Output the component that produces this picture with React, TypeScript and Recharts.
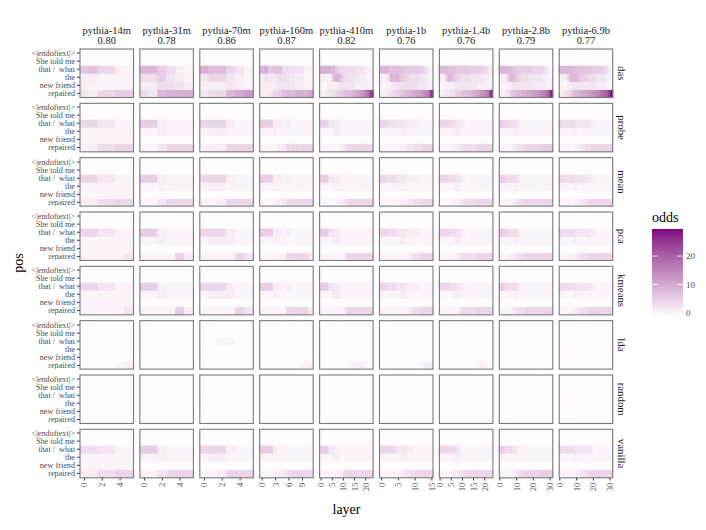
import React from 'react';
import { BarChart, Bar, XAxis, YAxis, Cell } from 'recharts';

// ---------- categories / labels ----------
const MODELS = ['pythia-14m', 'pythia-31m', 'pythia-70m', 'pythia-160m', 'pythia-410m', 'pythia-1b', 'pythia-1.4b', 'pythia-2.8b', 'pythia-6.9b'];
const SCORES = ['0.80', '0.78', '0.86', '0.87', '0.82', '0.76', '0.76', '0.79', '0.77'];
const LAYER_COUNTS = [6, 6, 6, 12, 24, 16, 24, 32, 32];
const TICK_STEPS = [2, 2, 2, 3, 5, 5, 5, 10, 10];
const METHODS = ['das', 'probe', 'mean', 'pca', 'kmeans', 'lda', 'random', 'vanilla'];
const POSITIONS = ['<|endoftext|>', 'She told me', 'that /  what', 'the', 'new friend', 'repaired'];
const ODDS_TICKS = [0, 10, 20];
const ODDS_LIMITS = [-1.4, 29.5];
// odds per cell = base-36 digit − 1  ('0' → −1, '1' → 0, 'a' → 9, 't' → 28)
const ODDS_OFFSET = -1;

// ---------- values: one base-36 character per layer ----------
// each panel: [<|endoftext|>, She told me, that / what, the, new friend, repaired]
const Z6 = '000000';
const Z12 = '000000000000';
const Z16 = '0000000000000000';
const Z24 = '000000000000000000000000';
const Z32 = '00000000000000000000000000000000';

const das: string[][] = [
  [Z6, Z6, '785521', '221111', '211111', '325566'],
  [Z6, Z6, '996421', '446321', '224432', '439aaa'],
  [Z6, Z6, 'a88531', '355321', '222321', '3459bd'],
  [Z12, Z12, '9a6884443321', '233344332211', '222233332211', '22356899aaac'],
  [Z24, Z24, 'aaaaa9975554444433332211', '2222249aa854443333222111', '111222223333333322222211', '222334456678899abcdegims'],
  [Z16, Z16, '9997888777666531', '22399a7654443321', '1122334444433321', '223456789abcdfhr'],
  [Z24, Z24, '999988877777776666655432', '222699865544443333332221', '111122233333333332222211', '222334456678899abcdefhjs'],
  [Z32, Z32, '99999988876666666666555555443211', '22223589987655444433333333222211', '11112222333333333333332222222111', '22223346788999aaabbccddeefghiknt'],
  [Z32, Z32, '99999999888887777777666666554321', '22222479999877665554444333332211', '11111222333333333333332222222111', '223344567899aabbccddeefghijklnqu'],
];

const probe: string[][] = [
  [Z6, Z6, '553311', '111111', '111111', '224455'],
  [Z6, Z6, '662111', '112111', Z6, '113555'],
  [Z6, Z6, '555211', '122111', Z6, '122555'],
  [Z12, Z12, '666221211111', '111211111111', Z12, '111123555555'],
  [Z24, Z24, '666633322211111111111111', '111111222211111111111111', Z24, '111111111223455555555555'],
  [Z16, Z16, '5544433322221111', '1111112211111111', Z16, '1111112233444555'],
  [Z24, Z24, '555554443322111111111111', '111111122211111111111111', Z24, '111111222334444445555555'],
  [Z32, Z32, '66655444444321111111111111111111', '11111111122211111111111111111111', Z32, '11111111223344455555555556666666'],
  [Z32, Z32, '55444444443333333332221111111111', '11111111122111111111111111111111', Z32, '11111111112223334445555555555555'],
];

const mean: string[][] = [
  [Z6, Z6, '553311', '111111', '111111', '224455'],
  [Z6, Z6, '662111', '112111', Z6, '113555'],
  [Z6, Z6, '555211', '122111', Z6, '112555'],
  [Z12, Z12, '666221211111', '111211111111', Z12, '111123455555'],
  [Z24, Z24, '666633322211111111111111', '111111222211111111111111', Z24, '111111112223455555555555'],
  [Z16, Z16, '5544433322221111', '1111112211111111', Z16, '1111112233444555'],
  [Z24, Z24, '555554443322111111111111', '111111122211111111111111', Z24, '111111222334444445555555'],
  [Z32, Z32, '66655444444321111111111111111111', '11111111122211111111111111111111', Z32, '11111111223344455555555555555555'],
  [Z32, Z32, '55444444443333333332221111111111', '11111111122111111111111111111111', Z32, '11111111112223334445555555555555'],
];

const pca: string[][] = [
  [Z6, Z6, '553311', '111111', '111111', '111113'],
  [Z6, Z6, '662111', '112111', Z6, '111152'],
  [Z6, Z6, '555211', '122211', Z6, '111153'],
  [Z12, Z12, '666221211111', '111211111111', Z12, '111111555552'],
  [Z24, Z24, '666633322211111111111111', '111111222211111111111111', Z24, '111111111112555555555555'],
  [Z16, Z16, '5544433322221111', '1111112211111111', Z16, '1111111113445555'],
  [Z24, Z24, '555554443322111111111111', '111111122211111111111111', Z24, '111111111344444445555555'],
  [Z32, Z32, '66655444444321111111111111111111', '11111111122211111111111111111111', Z32, '11111112233344445555555555555555'],
  [Z32, Z32, '55444444443333333332221111111111', '11111111122111111111111111111111', Z32, '11111111122333444455555555555555'],
];

const kmeans: string[][] = [
  [Z6, Z6, '553311', '111111', '111111', '111113'],
  [Z6, Z6, '662111', '112111', Z6, '111162'],
  [Z6, Z6, '555211', '122211', Z6, '111153'],
  [Z12, Z12, '666221211111', '111211111111', Z12, '111111555552'],
  [Z24, Z24, '666633322211111111111111', '111111222211111111111111', Z24, '111111111112555555555555'],
  [Z16, Z16, '5544433322221111', '1111112211111111', Z16, '1111111113445555'],
  [Z24, Z24, '555554443322111111111111', '111111122211111111111111', Z24, '111111111344444445555555'],
  [Z32, Z32, '66655444444321111111111111111111', '11111111122211111111111111111111', Z32, '11111112233344445555555555555555'],
  [Z32, Z32, '55444444443333333332221111111111', '11111111122111111111111111111111', Z32, '11111111122333444455555555555555'],
];

const lda: string[][] = [
  [Z6, Z6, Z6, Z6, Z6, '000012'],
  [Z6, Z6, Z6, Z6, Z6, Z6],
  [Z6, Z6, '001100', Z6, Z6, Z6],
  [Z12, Z12, Z12, Z12, Z12, '000000000112'],
  [Z24, Z24, Z24, Z24, Z24, '000000000000001222221100'],
  [Z16, Z16, Z16, Z16, Z16, '0000000000001222'],
  [Z24, Z24, Z24, Z24, Z24, '000000000000000000122100'],
  [Z32, Z32, Z32, Z32, Z32, Z32],
  [Z32, Z32, Z32, Z32, Z32, Z32],
];

const random: string[][] = [
  [Z6, Z6, Z6, Z6, Z6, Z6],
  [Z6, Z6, Z6, Z6, Z6, Z6],
  [Z6, Z6, Z6, Z6, Z6, Z6],
  [Z12, Z12, Z12, Z12, Z12, Z12],
  [Z24, Z24, Z24, Z24, Z24, Z24],
  [Z16, Z16, Z16, Z16, Z16, Z16],
  [Z24, Z24, Z24, Z24, Z24, Z24],
  [Z32, Z32, Z32, Z32, Z32, Z32],
  [Z32, Z32, Z32, Z32, Z32, Z32],
];

const vanilla: string[][] = [
  [Z6, Z6, '443311', '111111', '111111', '224455'],
  [Z6, Z6, '662111', '112111', Z6, '113555'],
  [Z6, Z6, '555211', '122111', Z6, '112555'],
  [Z12, Z12, '666211111111', '111211111111', Z12, '111123455555'],
  [Z24, Z24, '666633321111111111111111', '111111222111111111111111', Z24, '111111112234555555555555'],
  [Z16, Z16, '5555433322111111', '1111112211111111', Z16, '1111112334455555'],
  [Z24, Z24, '555554443211111111111111', '111111122211111111111111', Z24, '111111222334455555555555'],
  [Z32, Z32, '66655444433211111111111111111111', '11111111122211111111111111111111', Z32, '11111111223344455555555566666666'],
  [Z32, Z32, '55444444443333333333211111111111', '11111111122111111111111111111111', Z32, '11111111112223334445555555555555'],
];

const METHOD_DATA = [das, probe, mean, pca, kmeans, lda, random, vanilla];

// ---------- layout / style ----------
const FONT = '"Liberation Serif", "Times New Roman", Times, serif';
const PANEL_X0 = 80;
const PANEL_DX = 59.9;
const PANEL_W = 53.5;
const PANEL_Y0 = 49;
const PANEL_DY = 54.33;
const PANEL_H = 48.5;
const Y_AXIS_W = 80;
const X_AXIS_H = 32;
const SIDE_PAD = 6;
const LOW = [255, 255, 255];
const HIGH = [128, 0, 128];

// ---------- Lab colour interpolation (as ggplot's gradient) ----------
const toLin = (c: number) => { const v = c / 255; return v <= 0.04045 ? v / 12.92 : Math.pow((v + 0.055) / 1.055, 2.4); };
const fromLin = (c: number) => { const v = c <= 0.0031308 ? 12.92 * c : 1.055 * Math.pow(c, 1 / 2.4) - 0.055; return Math.round(Math.max(0, Math.min(1, v)) * 255); };
const XN = 0.95047, ZN = 1.08883;
function rgbToLab(rgb: number[]) {
  const [R, G, B] = rgb.map(toLin);
  const X = 0.4124 * R + 0.3576 * G + 0.1805 * B;
  const Y = 0.2126 * R + 0.7152 * G + 0.0722 * B;
  const Zc = 0.0193 * R + 0.1192 * G + 0.9505 * B;
  const f = (t: number) => (t > 0.008856 ? Math.cbrt(t) : 7.787 * t + 16 / 116);
  return [116 * f(Y) - 16, 500 * (f(X / XN) - f(Y)), 200 * (f(Y) - f(Zc / ZN))];
}
function labToHex(L: number, a: number, b: number) {
  const fy = (L + 16) / 116, fx = fy + a / 500, fz = fy - b / 200;
  const inv = (t: number) => (t * t * t > 0.008856 ? t * t * t : (t - 16 / 116) / 7.787);
  const X = XN * inv(fx), Y = inv(fy), Zc = ZN * inv(fz);
  const r = fromLin(3.2406 * X - 1.5372 * Y - 0.4986 * Zc);
  const g = fromLin(-0.9689 * X + 1.8758 * Y + 0.0415 * Zc);
  const bb = fromLin(0.0557 * X - 0.204 * Y + 1.057 * Zc);
  return '#' + [r, g, bb].map((v) => v.toString(16).padStart(2, '0')).join('');
}
const LAB_LOW = rgbToLab(LOW);
const LAB_HIGH = rgbToLab(HIGH);
function oddsColor(v: number) {
  const t = Math.max(0, Math.min(1, (v - ODDS_LIMITS[0]) / (ODDS_LIMITS[1] - ODDS_LIMITS[0])));
  return labToHex(
    LAB_LOW[0] + (LAB_HIGH[0] - LAB_LOW[0]) * t,
    LAB_LOW[1] + (LAB_HIGH[1] - LAB_LOW[1]) * t,
    LAB_LOW[2] + (LAB_HIGH[2] - LAB_LOW[2]) * t,
  );
}

// ---------- ticks ----------
const XTick = (p: any) => (
  <text
    x={p.x}
    y={p.y}
    transform={`rotate(-90 ${p.x} ${p.y})`}
    textAnchor="end"
    dominantBaseline="central"
    fontSize={8.8}
    fontFamily={FONT}
    fill="#4d4d4d"
  >
    {p.payload.value}
  </text>
);
const YTick = (p: any) => (
  <text
    x={p.x}
    y={p.y}
    textAnchor="end"
    dominantBaseline="central"
    fontSize={8.2}
    fontFamily={FONT}
    fill="#4d4d4d"
    style={{ whiteSpace: 'pre' }}
  >
    {POSITIONS[5 - Math.floor(p.payload.value)]}
  </text>
);

function Panel({ mi, di }: { mi: number; di: number }) {
  const n = LAYER_COUNTS[mi];
  const values = METHOD_DATA[di][mi];
  const isLeft = mi === 0;
  const isBottom = di === METHODS.length - 1;
  const rows: any[] = [];
  for (let l = 0; l < n; l++) {
    const r: any = { layer: l };
    for (let k = 0; k < 6; k++) {
      const ch = values[k][l];
      r['h' + k] = 1;
      r['v' + k] = (ch ? parseInt(ch, 36) : 0) + ODDS_OFFSET;
    }
    rows.push(r);
  }
  const yW = isLeft ? Y_AXIS_W : 0;
  const xH = isBottom ? X_AXIS_H : 0;
  return (
    <div style={{ position: 'absolute', left: PANEL_X0 + mi * PANEL_DX - yW - SIDE_PAD, top: PANEL_Y0 + di * PANEL_DY }}>
      <BarChart
        width={PANEL_W + yW + 2 * SIDE_PAD}
        height={PANEL_H + xH}
        data={rows}
        margin={{ top: 0, right: SIDE_PAD, bottom: 0, left: SIDE_PAD }}
        barCategoryGap={0}
        barGap={0}
      >
        <XAxis
          dataKey="layer"
          hide={!isBottom}
          height={X_AXIS_H}
          interval={TICK_STEPS[mi] - 1}
          tickSize={3}
          tickMargin={2}
          axisLine={false}
          tickLine={{ stroke: '#333333' }}
          tick={(p: any) => <XTick {...p} />}
        />
        <YAxis
          type="number"
          domain={[0, 6]}
          hide={!isLeft}
          width={Y_AXIS_W}
          ticks={[0.5, 1.5, 2.5, 3.5, 4.5, 5.5]}
          interval={0}
          tickSize={3}
          tickMargin={2}
          axisLine={false}
          tickLine={{ stroke: '#333333' }}
          tick={(p: any) => <YTick {...p} />}
        />
        {[5, 4, 3, 2, 1, 0].map((k) => (
          <Bar key={k} dataKey={'h' + k} stackId="s" isAnimationActive={false}>
            {rows.map((r, i) => (
              <Cell key={i} fill={oddsColor(r['v' + k])} stroke={oddsColor(r['v' + k])} strokeWidth={0.9} />
            ))}
          </Bar>
        ))}
      </BarChart>
    </div>
  );
}

function Overlay() {
  const barX = 652, barW = 31, barTop = 229, barBot = 317;
  const yOf = (v: number) => barBot - ((v - ODDS_LIMITS[0]) / (ODDS_LIMITS[1] - ODDS_LIMITS[0])) * (barBot - barTop);
  const stops = [];
  for (let i = 0; i <= 20; i++) {
    const t = i / 20;
    stops.push(<stop key={i} offset={t} stopColor={oddsColor(ODDS_LIMITS[1] - t * (ODDS_LIMITS[1] - ODDS_LIMITS[0]))} />);
  }
  return (
    <svg width={706} height={530} style={{ position: 'absolute', left: 0, top: 0, pointerEvents: 'none' }} fontFamily={FONT}>
      <defs>
        <linearGradient id="oddsGrad" x1="0" y1="0" x2="0" y2="1">{stops}</linearGradient>
      </defs>
      {METHODS.map((m, di) =>
        MODELS.map((_, mi) => (
          <rect
            key={m + mi}
            x={PANEL_X0 + mi * PANEL_DX}
            y={PANEL_Y0 + di * PANEL_DY}
            width={PANEL_W}
            height={PANEL_H}
            fill="none"
            stroke="#7a7a7a"
            strokeWidth={1.1}
          />
        )),
      )}
      {MODELS.map((name, mi) => {
        const cx = PANEL_X0 + mi * PANEL_DX + PANEL_W / 2;
        return (
          <g key={name} fontSize={10.5} fill="#1a1a1a" textAnchor="middle">
            <text x={cx} y={30.2} dominantBaseline="central">{name}</text>
            <text x={cx} y={40.6} dominantBaseline="central">{SCORES[mi]}</text>
          </g>
        );
      })}
      {METHODS.map((m, di) => {
        const cy = PANEL_Y0 + di * PANEL_DY + PANEL_H / 2;
        const x = 621.5;
        return (
          <text key={m} x={x} y={cy} fontSize={10.8} fill="#1a1a1a" textAnchor="middle" dominantBaseline="central" transform={`rotate(90 ${x} ${cy})`}>
            {m}
          </text>
        );
      })}
      <text x={346.5} y={509} fontSize={14} fill="#000" textAnchor="middle" dominantBaseline="central">layer</text>
      <text x={18} y={263} fontSize={14} fill="#000" textAnchor="middle" dominantBaseline="central" transform="rotate(-90 18 263)">pos</text>
      <text x={652} y={217} fontSize={14} fill="#000" dominantBaseline="central">odds</text>
      <rect x={barX} y={barTop} width={barW} height={barBot - barTop} fill="url(#oddsGrad)" />
      {ODDS_TICKS.map((v) => (
        <g key={v}>
          <line x1={barX} x2={barX + 6} y1={yOf(v)} y2={yOf(v)} stroke="#ffffff" strokeWidth={0.8} />
          <line x1={barX + barW - 6} x2={barX + barW} y1={yOf(v)} y2={yOf(v)} stroke="#ffffff" strokeWidth={0.8} />
          <text x={barX + barW + 3} y={yOf(v)} fontSize={9} fill="#4d4d4d" dominantBaseline="central">{v}</text>
        </g>
      ))}
    </svg>
  );
}

export default function App() {
  return (
    <div style={{ position: 'absolute', left: 0, top: 0, width: 706, height: 530, background: '#ffffff', overflow: 'hidden' }}>
      {METHODS.map((m, di) => MODELS.map((_, mi) => <Panel key={m + mi} mi={mi} di={di} />))}
      <Overlay />
    </div>
  );
}
